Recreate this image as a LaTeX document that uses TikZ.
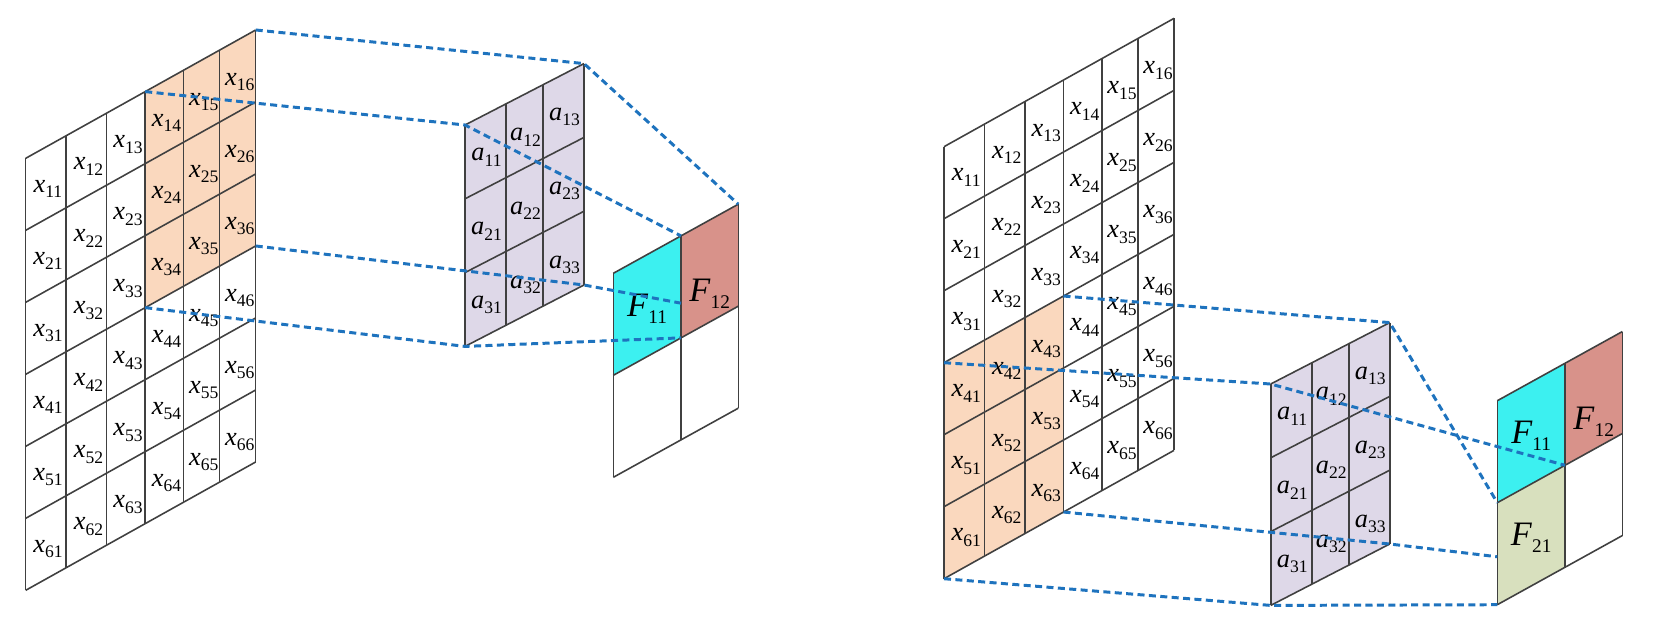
\documentclass[tikz,border=0pt]{standalone}
\usepackage{fontspec}
\setmainfont{Liberation Serif}
\usetikzlibrary{calc}

\definecolor{peach}{RGB}{250,216,190}
\definecolor{lilac}{RGB}{222,216,232}
\definecolor{aqua}{RGB}{60,240,240}
\definecolor{rose}{RGB}{216,146,138}
\definecolor{sage}{RGB}{216,224,190}
\definecolor{linkblue}{RGB}{30,115,190}

% letter with a two digit index
\newcommand\cellname[4][10]{\textit{#2}\raisebox{-0.45ex}{\fontsize{#1}{#1}\selectfont #3#4}}
% corners of a slanted grid: name, origin, column offsets, slope, row height, rows
\newcommand\skewgrid[6]{%
  \foreach \i in {0,...,#6}
    \foreach \j/\dx in {#3}
      \coordinate (#1-\i-\j) at ($(#2)+(\dx,{-#4*\dx+\i*#5})$);
}

\tikzset{
  gridline/.style={draw=black!75, line width=0.9pt},
  link/.style={linkblue, line width=1.7pt, dash pattern=on 4pt off 2.5pt},
  lbl/.style={font=\fontsize{15}{15}\selectfont, inner sep=0pt},
  biglbl/.style={font=\fontsize{19.5}{19.5}\selectfont, inner sep=0pt},
}

\begin{document}
\begin{tikzpicture}[x=0.02cm, y=-0.02cm]
  \useasboundingbox (0,0) rectangle (1653,637);
  % inputs, kernels, feature maps
  \skewgrid{LX}{25.7,158.3}{0/0,1/40.5,2/81,3/119.5,4/158,5/194,6/230}{0.558}{72}{6}
  \skewgrid{RX}{944,146.7}{0/0,1/40.5,2/81,3/119.5,4/158,5/194,6/230}{0.558}{72}{6}
  \skewgrid{LK}{465,125}{0/0,1/41,2/78,3/119}{0.516}{73.8}{3}
  \skewgrid{RK}{1270.7,384}{0/0,1/41,2/78,3/119}{0.516}{73.8}{3}
  \skewgrid{LF}{613.3,273.3}{0/0,1/67.7,2/125}{0.553}{102}{2}
  \skewgrid{RF}{1497.3,400.7}{0/0,1/67.7,2/125}{0.553}{102}{2}

  \fill[peach] (LX-0-3) -- (LX-0-6) -- (LX-3-6) -- (LX-3-3) -- cycle;
  \fill[peach] (RX-3-0) -- (RX-3-3) -- (RX-6-3) -- (RX-6-0) -- cycle;
  \foreach \g in {LK,RK}
    \fill[lilac] (\g-0-0) -- (\g-0-3) -- (\g-3-3) -- (\g-3-0) -- cycle;
  \foreach \g in {LF,RF} {
    \fill[aqua] (\g-0-0) -- (\g-0-1) -- (\g-1-1) -- (\g-1-0) -- cycle;
    \fill[rose] (\g-0-1) -- (\g-0-2) -- (\g-1-2) -- (\g-1-1) -- cycle;
  }
  \fill[sage] (RF-1-0) -- (RF-1-1) -- (RF-2-1) -- (RF-2-0) -- cycle;

  \foreach \g/\n in {LX/6,RX/6,LK/3,RK/3,LF/2,RF/2}
    \foreach \k in {0,...,\n} {
      \draw[gridline] (\g-\k-0) -- (\g-\k-\n);
      \draw[gridline] (\g-0-\k) -- (\g-\n-\k);
    }

  % labels
  \foreach \g in {LX,RX}
    \foreach \i in {1,...,6}
      \foreach \j in {1,...,6} {
        \pgfmathtruncatemacro\ia{\i-1}
        \pgfmathtruncatemacro\ja{\j-1}
        \node[lbl] (\g-x\i\j) at ($(\g-\ia-\ja)!0.5!(\g-\i-\j)+(2,6)$) {\cellname{x}{\i}{\j}};
      }
  \foreach \g in {LK,RK}
    \foreach \i in {1,...,3}
      \foreach \j in {1,...,3} {
        \pgfmathtruncatemacro\ia{\i-1}
        \pgfmathtruncatemacro\ja{\j-1}
        \node[lbl] (\g-a\i\j) at ($(\g-\ia-\ja)!0.5!(\g-\i-\j)+(1,6)$) {\cellname{a}{\i}{\j}};
      }
  \foreach \g in {LF,RF} {
    \node[biglbl] (\g-F11) at ($(\g-0-0)!0.5!(\g-1-1)+(0,3)$) {\cellname[11]{F}{1}{1}};
    \node[biglbl] (\g-F12) at ($(\g-0-1)!0.5!(\g-1-2)+(0,23)$) {\cellname[11]{F}{1}{2}};
  }
  \node[biglbl] (RF-F21) at ($(RF-1-0)!0.5!(RF-2-1)+(0,3)$) {\cellname[11]{F}{2}{1}};

  % receptive field links
  \coordinate (LF-p) at ($(LF-0-1)!0.66!(LF-1-1)$);
  \coordinate (RF-p) at ($(RF-1-0)!0.53!(RF-2-0)$);
  \draw[link] (LX-0-6) -- (LK-0-3) -- (LF-0-2);
  \draw[link] (LX-0-3) -- (LK-0-0) -- (LF-0-1);
  \draw[link] (LX-3-6) -- (LK-3-3) -- (LF-p);
  \draw[link] (LX-3-3) -- (LK-3-0) -- (LF-1-1);
  \draw[link] (RX-3-3) -- (RK-0-3) -- (RF-1-0);
  \draw[link] (RX-3-0) -- (RK-0-0) -- (RF-1-1);
  \draw[link] (RX-6-3) -- (RK-3-3) -- (RF-p);
  \draw[link] (RX-6-0) -- (RK-3-0) -- (RF-2-0);
\end{tikzpicture}
\end{document}
